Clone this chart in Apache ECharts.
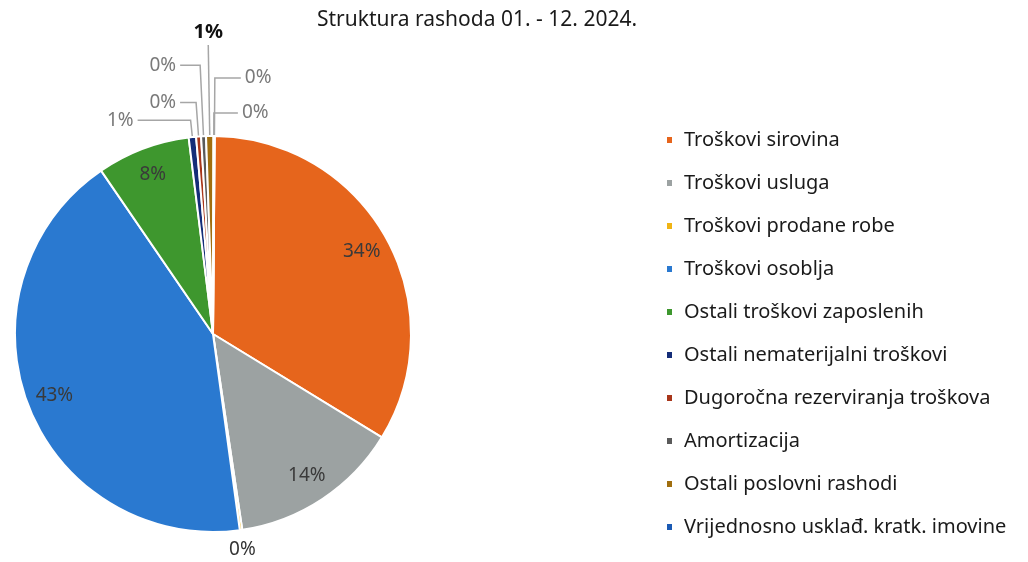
<!DOCTYPE html>
<html>
<head>
<meta charset="utf-8">
<script src="https://cdn.jsdelivr.net/npm/echarts@6/dist/echarts.min.js"></script>
<style>html,body{margin:0;background:#fff}#chart{width:1028px;height:562px}</style>
</head>
<body>
<div id="chart"></div>
<script>
// kategorije i udjeli (%) ocitani sa slike
var categories = ['Troškovi sirovina', 'Troškovi usluga', 'Troškovi prodane robe', 'Troškovi osoblja',
  'Ostali troškovi zaposlenih', 'Ostali nematerijalni troškovi', 'Dugoročna rezerviranja troškova',
  'Amortizacija', 'Ostali poslovni rashodi', 'Vrijednosno usklađ. kratk. imovine', 'Ostalo'];
var shares = [33.6, 13.9, 0.2, 42.6, 7.6, 0.6, 0.4, 0.4, 0.6, 0.05, 0.05];
var legendItems = categories.slice(0, 10);

var colors = ['#E6651C', '#9CA2A2', '#F0B414', '#2A79D0', '#3E972E', '#142D78',
  '#A8361A', '#5A5A5A', '#A06E0F', '#1A5AB4', '#43682B'];

var FONT = 'Noto Sans';
var CENTER = [213, 334];
var R = 198;
var START = 89.5;

var total = shares.reduce(function (a, b) { return a + b; }, 0);
function pct(v) { return Math.round(v / total * 100) + '%'; }

// duzine linija za tanke isjecke [length, length2]
var leader = {
  2: [10, 0],
  5: [17, 53],
  6: [34, 16],
  7: [71, 20],
  8: [91, 0],
  9: [23, 24],
  10: [58, 26]
};
var insideIdx = [0, 1, 3, 4];

var pieData = categories.map(function (name, i) {
  var d = { name: name, value: shares[i], itemStyle: { color: colors[i] } };
  if (leader[i]) {
    d.labelLine = { length: leader[i][0], length2: leader[i][1] };
    if (i === 8) d.label = { fontWeight: 'bold', color: '#111', fontSize: 20 };
    if (i === 2) { d.label = { color: '#333' }; d.labelLine.lineStyle = { opacity: 0 }; }
  } else {
    d.label = { show: false };
    d.labelLine = { show: false };
  }
  return d;
});

var ringData = categories.map(function (name, i) {
  return { name: name, value: shares[i], label: { show: insideIdx.indexOf(i) >= 0 } };
});

var chart = echarts.init(document.getElementById('chart'));
chart.setOption({
  backgroundColor: '#fff',
  animation: false,
  title: {
    text: 'Struktura rashoda 01. - 12. 2024.',
    left: 312, top: 5,
    textStyle: { fontFamily: FONT, fontSize: 21, fontWeight: 'normal', color: '#1a1a1a' }
  },
  legend: {
    orient: 'vertical', left: 660, top: 124,
    data: legendItems,
    icon: 'rect', itemWidth: 7, itemHeight: 8, itemGap: 21,
    textStyle: { fontFamily: FONT, fontSize: 20, color: '#1a1a1a', lineHeight: 22, padding: [0, 0, 0, 6] }
  },
  series: [{
    type: 'pie',
    center: CENTER, radius: R,
    startAngle: START, clockwise: true,
    avoidLabelOverlap: false,
    silent: true,
    itemStyle: { borderColor: '#fff', borderWidth: 2 },
    label: {
      position: 'outside', formatter: function (p) { return pct(p.value); },
      fontFamily: FONT, fontSize: 19, color: '#7a7a7a', distanceToLabelLine: 4
    },
    labelLine: { lineStyle: { color: '#A6A6A6', width: 1.5 }, smooth: false },
    labelLayout: function (p) {
      if ((p.dataIndex === 8 || p.dataIndex === 2) && p.labelLinePoints) {
        var pts = p.labelLinePoints;
        var end = pts[pts.length - 1];
        return {
          x: end[0], y: end[1] + (p.dataIndex === 8 ? -3 : 0),
          align: 'center', verticalAlign: p.dataIndex === 8 ? 'bottom' : 'top',
          labelLinePoints: pts
        };
      }
    },
    data: pieData
  }, {
    type: 'pie',
    center: CENTER, radius: [136, R],
    startAngle: START, clockwise: true,
    silent: true,
    itemStyle: { color: 'rgba(0,0,0,0)' },
    label: {
      position: 'inside', formatter: function (p) { return pct(p.value); },
      fontFamily: FONT, fontSize: 19, color: '#3a3a3a'
    },
    labelLine: { show: false },
    data: ringData
  }]
});
</script>
</body>
</html>
